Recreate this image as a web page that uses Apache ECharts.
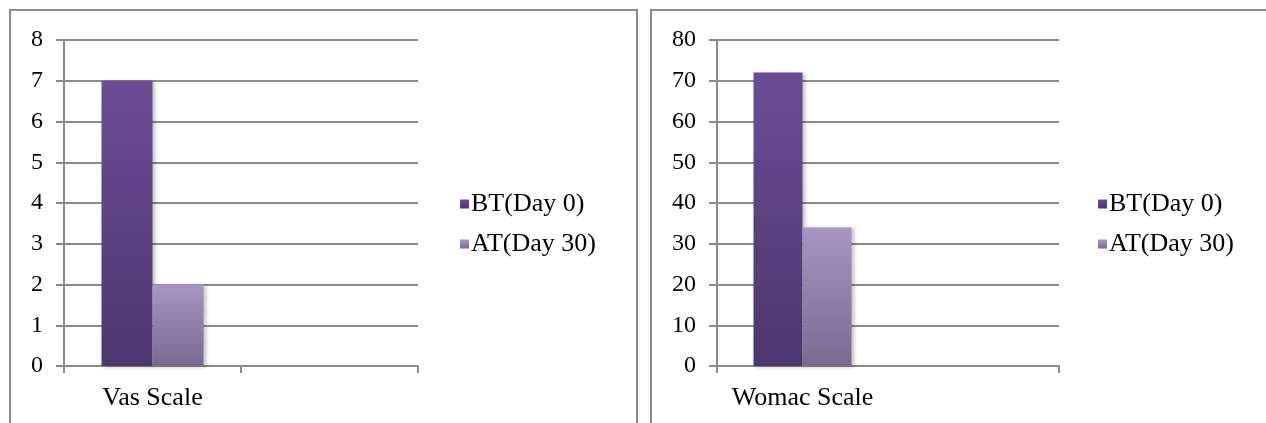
<!DOCTYPE html>
<html>
<head>
<meta charset="utf-8">
<script src="https://cdn.jsdelivr.net/npm/echarts@6/dist/echarts.min.js"></script>
<style>
  html, body { margin: 0; padding: 0; background: #fff; }
  #chart { width: 1266px; height: 423px; }
</style>
</head>
<body>
<div id="chart"></div>
<script>
// Scores before and after treatment, two scales
const seriesNames = ['BT(Day 0)', 'AT(Day 30)'];
const vasCategories = ['Vas Scale', ''];
const womacCategories = ['Womac Scale', ''];
const vasBefore = [7, null];
const vasAfter = [2, null];
const womacBefore = [72, null];
const womacAfter = [34, null];

const FONT = 'Liberation Serif';
const GRID_GRAY = '#8a8a8a';

function grad(top, bottom) {
  return new echarts.graphic.LinearGradient(0, 0, 0, 1, [
    { offset: 0, color: top },
    { offset: 1, color: bottom }
  ]);
}
const beforeColor = grad('#6c4d95', '#4d356e');
const afterColor = grad('#a795c4', '#7b6892');

function xAxisFor(idx, cats) {
  return {
    type: 'category', gridIndex: idx, data: cats, boundaryGap: true,
    axisLine: { lineStyle: { color: GRID_GRAY, width: 2 } },
    axisTick: { show: true, length: 7, lineStyle: { color: GRID_GRAY, width: 2 } },
    axisLabel: { color: '#000', fontFamily: FONT, fontSize: 26, margin: 19 }
  };
}
function yAxisFor(idx, max, interval) {
  return {
    type: 'value', gridIndex: idx, min: 0, max: max, interval: interval,
    axisLine: { show: true, lineStyle: { color: GRID_GRAY, width: 2 } },
    axisTick: { show: true, length: 8, lineStyle: { color: GRID_GRAY, width: 2 } },
    axisLabel: { color: '#000', fontFamily: FONT, fontSize: 24, margin: 21 },
    splitLine: { show: true, lineStyle: { color: GRID_GRAY, width: 2 } }
  };
}
function barSeries(name, axisIdx, data, color, width) {
  return {
    name: name, type: 'bar', xAxisIndex: axisIdx, yAxisIndex: axisIdx,
    data: data, barWidth: width, barGap: '0%',
    itemStyle: {
      color: color,
      shadowColor: 'rgba(0,0,0,0.25)', shadowBlur: 4, shadowOffsetX: 2, shadowOffsetY: 1
    }
  };
}
function legendFor(left) {
  return {
    orient: 'vertical', left: left, top: 186,
    icon: 'rect', itemWidth: 9, itemHeight: 9, itemGap: 14,
    textStyle: { color: '#000', fontFamily: FONT, fontSize: 26, padding: [0, 0, 0, -3] },
    data: seriesNames
  };
}

const chart = echarts.init(document.getElementById('chart'), null, { renderer: 'canvas' });
chart.setOption({
  animation: false,
  backgroundColor: '#fff',
  graphic: [
    { type: 'rect', shape: { x: 10, y: 10, width: 627, height: 500 },
      style: { fill: 'none', stroke: GRID_GRAY, lineWidth: 2 }, silent: true, z: -1 },
    { type: 'rect', shape: { x: 651, y: 10, width: 700, height: 500 },
      style: { fill: 'none', stroke: GRID_GRAY, lineWidth: 2 }, silent: true, z: -1 }
  ],
  grid: [
    { left: 64, right: 848, top: 40, bottom: 57 },
    { left: 717, right: 207, top: 40, bottom: 57 }
  ],
  legend: [legendFor(455), legendFor(1093)],
  xAxis: [xAxisFor(0, vasCategories), xAxisFor(1, womacCategories)],
  yAxis: [yAxisFor(0, 8, 1), yAxisFor(1, 80, 10)],
  series: [
    barSeries(seriesNames[0], 0, vasBefore, beforeColor, 51),
    barSeries(seriesNames[1], 0, vasAfter, afterColor, 51),
    barSeries(seriesNames[0], 1, womacBefore, beforeColor, 49),
    barSeries(seriesNames[1], 1, womacAfter, afterColor, 49)
  ]
});
</script>
</body>
</html>
